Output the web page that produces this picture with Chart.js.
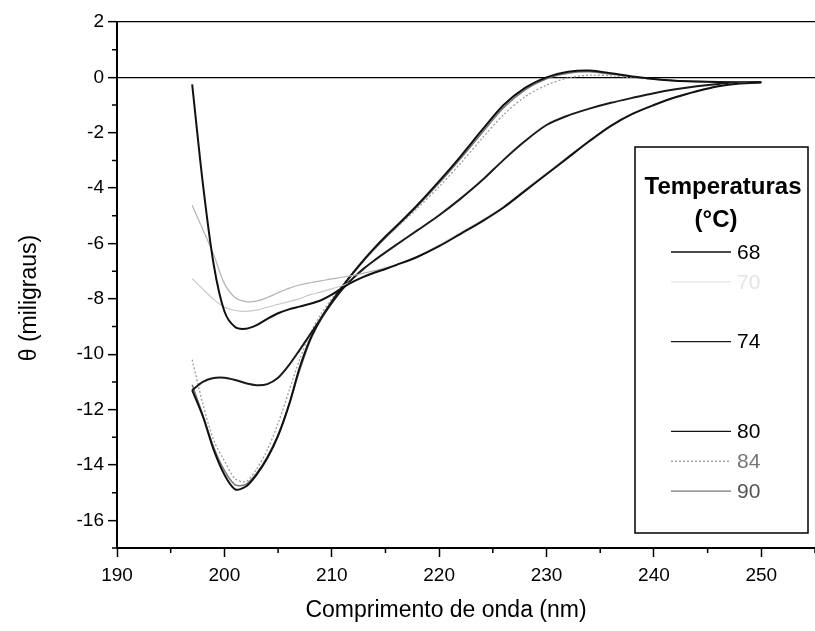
<!DOCTYPE html>
<html>
<head>
<meta charset="utf-8">
<script src="https://cdn.jsdelivr.net/npm/chart.js@4.4.1/dist/chart.umd.min.js"></script>
<style>
  html, body { margin: 0; padding: 0; background: #fff; }
  #wrap { width: 815px; height: 631px; }
</style>
</head>
<body>
<div id="wrap"><canvas id="cdChart" width="815" height="631"></canvas></div>
<script>
/* ── data ─────────────────────────────────────────────────────── */
var wavelengths = [197,198,199,200,201,202,203,204,205,206,207,208,209,210,211,212,213,214,215,216,
                   218,220,222,224,226,228,230,232,234,236,238,240,242,244,246,248,250];

var theta68 = [-0.25,-3.85,-6.75,-8.45,-9.02,-9.08,-8.95,-8.72,-8.52,-8.38,-8.28,-8.18,-8.05,-7.85,-7.6,-7.38,-7.2,-7.05,-6.92,-6.78,
               -6.48,-6.1,-5.65,-5.2,-4.7,-4.1,-3.5,-2.9,-2.3,-1.75,-1.32,-1.0,-0.72,-0.5,-0.32,-0.22,-0.18];
var theta70 = [-7.27,-7.65,-8.02,-8.3,-8.42,-8.45,-8.41,-8.3,-8.2,-8.1,-7.99,-7.85,-7.75,-7.64,-7.52,-7.38,-7.22,-7.06,-6.91,-6.77,
               -6.46,-6.06,-5.61,-5.16,-4.66,-4.06,-3.46,-2.87,-2.28,-1.73,-1.31,-0.99,-0.71,-0.49,-0.31,-0.22,-0.18];
var theta72 = [-4.62,-5.5,-6.4,-7.45,-7.95,-8.1,-8.08,-7.95,-7.78,-7.62,-7.5,-7.42,-7.35,-7.28,-7.22,-7.15,-7.07,-6.98,-6.88,-6.76,
               -6.47,-6.08,-5.63,-5.17,-4.67,-4.07,-3.47,-2.87,-2.28,-1.73,-1.31,-0.99,-0.71,-0.49,-0.31,-0.22,-0.18];
var theta74 = [-11.3,-11.0,-10.86,-10.85,-10.93,-11.05,-11.12,-11.08,-10.85,-10.4,-9.85,-9.28,-8.7,-8.15,-7.65,-7.25,-6.9,-6.6,-6.32,-6.05,
               -5.52,-4.98,-4.38,-3.72,-2.98,-2.3,-1.72,-1.38,-1.13,-0.92,-0.74,-0.57,-0.43,-0.32,-0.24,-0.2,-0.17];
var theta80 = [-11.3,-12.25,-13.45,-14.35,-14.88,-14.78,-14.35,-13.75,-12.95,-11.85,-10.5,-9.45,-8.7,-8.1,-7.55,-7.05,-6.58,-6.15,-5.75,-5.38,
               -4.6,-3.75,-2.85,-1.9,-1.0,-0.38,0.0,0.2,0.25,0.15,0.03,-0.06,-0.12,-0.15,-0.17,-0.18,-0.18];
var theta84 = [-10.2,-11.8,-13.1,-13.85,-14.5,-14.6,-14.15,-13.45,-12.5,-11.35,-10.2,-9.25,-8.55,-8.0,-7.5,-7.02,-6.58,-6.18,-5.8,-5.44,
               -4.72,-3.95,-3.1,-2.2,-1.35,-0.7,-0.28,-0.02,0.08,0.06,-0.01,-0.07,-0.12,-0.15,-0.17,-0.18,-0.2];
var theta90 = [-11.1,-12.2,-13.35,-14.2,-14.72,-14.7,-14.3,-13.7,-12.9,-11.85,-10.6,-9.5,-8.75,-8.15,-7.58,-7.08,-6.62,-6.2,-5.8,-5.42,
               -4.65,-3.82,-2.93,-2.0,-1.1,-0.45,-0.05,0.15,0.2,0.12,0.02,-0.07,-0.12,-0.15,-0.17,-0.18,-0.19];

var seriesLabels = ['68', '70', '72', '74', '80', '84', '90'];
var seriesData   = [theta68, theta70, theta72, theta74, theta80, theta84, theta90];

/* legend slots: 68,70,72,74,76,78,80,84,90 (72/76/78 print blank) */
var legendSlot   = [0, 1, null, 3, 6, 7, 8];

var xTicks = [190, 200, 210, 220, 230, 240, 250];
var xMinor = [195, 205, 215, 225, 235, 245, 255];
var yTicks = [-16, -14, -12, -10, -8, -6, -4, -2, 0, 2];
var yMinor = [-17, -15, -13, -11, -9, -7, -5, -3, -1, 1];

var xTitle = 'Comprimento de onda (nm)';
var yTitle = '\u03B8 (miligraus)';

/* ── styles ───────────────────────────────────────────────────── */
var FONT = "'Liberation Sans', Arial, sans-serif";
var lineColors  = ['#111', '#c9c9c9', '#b4b4b4', '#1a1a1a', '#111', '#9d9d9d', '#777'];
var lineWidths  = [2, 1.2, 1.2, 2, 2, 1.3, 1.5];
var lineDashes  = [[], [], [], [], [], [2, 2], []];
var legendText  = ['#000', '#e4e4e4', '#fff', '#000', '#000', '#777', '#555'];

var datasets = seriesData.map(function(vals, i) {
  return {
    label: seriesLabels[i],
    data: vals.map(function(v, j) { return { x: wavelengths[j], y: v }; }),
    borderColor: lineColors[i],
    borderWidth: lineWidths[i],
    borderDash: lineDashes[i],
    pointRadius: 0,
    fill: false,
    tension: 0.3
  };
});

/* ── minor ticks, axis titles, boxed legend ───────────────────── */
var extrasPlugin = {
  id: 'extras',
  afterDraw: function(chart) {
    var ctx = chart.ctx, xs = chart.scales.x, ys = chart.scales.y, a = chart.chartArea;
    ctx.save();
    ctx.strokeStyle = '#000';
    ctx.lineWidth = 1.5;
    ctx.beginPath();
    xMinor.forEach(function(v) {
      var px = xs.getPixelForValue(v);
      ctx.moveTo(px, a.bottom); ctx.lineTo(px, a.bottom + 5);
    });
    yMinor.forEach(function(v) {
      var py = ys.getPixelForValue(v);
      ctx.moveTo(a.left - 5, py); ctx.lineTo(a.left, py);
    });
    ctx.stroke();

    // axis titles
    ctx.fillStyle = '#000';
    ctx.textAlign = 'center';
    ctx.textBaseline = 'middle';
    ctx.font = '23px ' + FONT;
    ctx.fillText(xTitle, 446, 611);
    ctx.save();
    ctx.translate(30, 298);
    ctx.rotate(-Math.PI / 2);
    ctx.fillText(yTitle, 0, 0);
    ctx.restore();

    // legend box
    var L = 635, T = 147, R = 808, B = 533;
    ctx.fillStyle = '#fff';
    ctx.fillRect(L, T, R - L, B - T);
    ctx.lineWidth = 1.5;
    ctx.strokeRect(L, T, R - L, B - T);

    ctx.fillStyle = '#000';
    ctx.font = 'bold 24px ' + FONT;
    ctx.fillText('Temperaturas', 723, 187);
    ctx.fillText('(\u00B0C)', 716, 220);

    ctx.textAlign = 'left';
    ctx.font = '21px ' + FONT;
    datasets.forEach(function(d, i) {
      if (legendSlot[i] === null) return;
      var y = 252 + legendSlot[i] * 29.9;
      ctx.strokeStyle = i === 1 ? '#e4e4e4' : d.borderColor;
      ctx.lineWidth = 1.3;
      ctx.setLineDash(d.borderDash);
      ctx.beginPath(); ctx.moveTo(671, y); ctx.lineTo(731, y); ctx.stroke();
      ctx.setLineDash([]);
      ctx.fillStyle = legendText[i];
      ctx.fillText(d.label, 737, y + 1);
    });
    ctx.restore();
  }
};

new Chart(document.getElementById('cdChart'), {
  type: 'line',
  data: { datasets: datasets },
  options: {
    responsive: false,
    animation: false,
    layout: { padding: { top: 22, right: 0, left: 0, bottom: 0 } },
    plugins: { legend: { display: false }, tooltip: { enabled: false } },
    scales: {
      x: {
        type: 'linear', min: 190, max: 255,
        afterBuildTicks: function(s) { s.ticks = xTicks.map(function(v) { return { value: v }; }); },
        afterFit: function(s) { s.height = 83; },
        ticks: { color: '#000', font: { family: FONT, size: 19 }, padding: 7, maxRotation: 0 },
        grid: { drawOnChartArea: false, drawTicks: true, tickLength: 9, tickColor: '#000', tickWidth: 1.5 },
        border: { display: true, color: '#000', width: 2 }
      },
      y: {
        type: 'linear', min: -17, max: 2,
        afterBuildTicks: function(s) { s.ticks = yTicks.map(function(v) { return { value: v }; }); },
        afterFit: function(s) { s.width = 117; },
        ticks: { color: '#000', font: { family: FONT, size: 19 }, padding: 4 },
        grid: {
          drawOnChartArea: true, drawTicks: true, tickLength: 9, tickColor: '#000', tickWidth: 1.5,
          lineWidth: 1.3,
          color: function(c) { return (c.tick && (c.tick.value === 0 || c.tick.value === 2)) ? '#000' : 'rgba(0,0,0,0)'; }
        },
        border: { display: true, color: '#000', width: 2 }
      }
    }
  },
  plugins: [extrasPlugin]
});
</script>
</body>
</html>
